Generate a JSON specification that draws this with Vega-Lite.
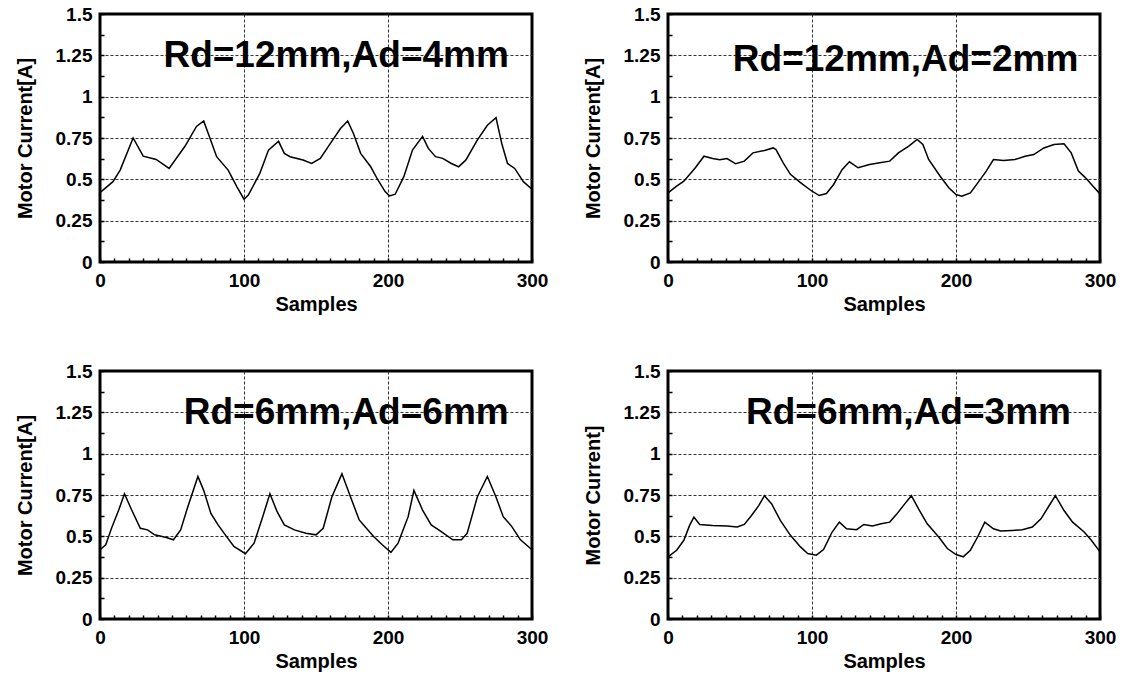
{
  "$schema": "https://vega.github.io/schema/vega-lite/v6.json",
  "autosize": {"type": "pad"},
  "padding": {"left": 13, "top": 3, "right": 5, "bottom": 5},
  "background": "white",
  "config": {
    "font": "Liberation Sans",
    "view": {"stroke": "black", "strokeWidth": 3},
    "axis": {
      "domain": false,
      "labelFont": "Liberation Sans",
      "labelFontWeight": "bold",
      "labelFontSize": 19,
      "labelColor": "black",
      "labelOverlap": false,
      "labelBound": false,
      "labelFlush": false,
      "titleFont": "Liberation Sans",
      "titleFontWeight": "bold",
      "titleFontSize": 20,
      "titleColor": "black",
      "gridColor": "#333333",
      "gridDash": [3, 2],
      "gridWidth": 1,
      "tickColor": "black",
      "tickWidth": 1.5,
      "tickSize": -4
    }
  },
  "datasets": {
    "current": [
      {"panel": "a", "sample": 0, "current": 0.42},
      {"panel": "a", "sample": 9, "current": 0.486},
      {"panel": "a", "sample": 14, "current": 0.556},
      {"panel": "a", "sample": 23, "current": 0.75},
      {"panel": "a", "sample": 30, "current": 0.64},
      {"panel": "a", "sample": 39, "current": 0.62},
      {"panel": "a", "sample": 48, "current": 0.566},
      {"panel": "a", "sample": 59, "current": 0.7},
      {"panel": "a", "sample": 67, "current": 0.82},
      {"panel": "a", "sample": 72, "current": 0.853},
      {"panel": "a", "sample": 76, "current": 0.757},
      {"panel": "a", "sample": 81, "current": 0.637},
      {"panel": "a", "sample": 89, "current": 0.556},
      {"panel": "a", "sample": 95, "current": 0.456},
      {"panel": "a", "sample": 100, "current": 0.38},
      {"panel": "a", "sample": 103, "current": 0.405},
      {"panel": "a", "sample": 111, "current": 0.536},
      {"panel": "a", "sample": 117, "current": 0.677},
      {"panel": "a", "sample": 124, "current": 0.73},
      {"panel": "a", "sample": 128, "current": 0.657},
      {"panel": "a", "sample": 132, "current": 0.637},
      {"panel": "a", "sample": 141, "current": 0.617},
      {"panel": "a", "sample": 147, "current": 0.596},
      {"panel": "a", "sample": 153, "current": 0.626},
      {"panel": "a", "sample": 160, "current": 0.717},
      {"panel": "a", "sample": 167, "current": 0.807},
      {"panel": "a", "sample": 172, "current": 0.853},
      {"panel": "a", "sample": 176, "current": 0.777},
      {"panel": "a", "sample": 181, "current": 0.657},
      {"panel": "a", "sample": 188, "current": 0.576},
      {"panel": "a", "sample": 193, "current": 0.496},
      {"panel": "a", "sample": 198, "current": 0.426},
      {"panel": "a", "sample": 201, "current": 0.4},
      {"panel": "a", "sample": 205, "current": 0.41},
      {"panel": "a", "sample": 211, "current": 0.516},
      {"panel": "a", "sample": 217, "current": 0.677},
      {"panel": "a", "sample": 224, "current": 0.76},
      {"panel": "a", "sample": 228, "current": 0.687},
      {"panel": "a", "sample": 233, "current": 0.637},
      {"panel": "a", "sample": 238, "current": 0.627},
      {"panel": "a", "sample": 244, "current": 0.596},
      {"panel": "a", "sample": 249, "current": 0.576},
      {"panel": "a", "sample": 254, "current": 0.616},
      {"panel": "a", "sample": 262, "current": 0.737},
      {"panel": "a", "sample": 269, "current": 0.827},
      {"panel": "a", "sample": 275, "current": 0.873},
      {"panel": "a", "sample": 279, "current": 0.717},
      {"panel": "a", "sample": 283, "current": 0.596},
      {"panel": "a", "sample": 288, "current": 0.566},
      {"panel": "a", "sample": 294, "current": 0.486},
      {"panel": "a", "sample": 300, "current": 0.44},

      {"panel": "b", "sample": 0, "current": 0.418},
      {"panel": "b", "sample": 6, "current": 0.459},
      {"panel": "b", "sample": 11, "current": 0.489},
      {"panel": "b", "sample": 19, "current": 0.57},
      {"panel": "b", "sample": 25, "current": 0.64},
      {"panel": "b", "sample": 31, "current": 0.626},
      {"panel": "b", "sample": 36, "current": 0.618},
      {"panel": "b", "sample": 41, "current": 0.626},
      {"panel": "b", "sample": 47, "current": 0.594},
      {"panel": "b", "sample": 53, "current": 0.61},
      {"panel": "b", "sample": 59, "current": 0.66},
      {"panel": "b", "sample": 67, "current": 0.675},
      {"panel": "b", "sample": 73, "current": 0.69},
      {"panel": "b", "sample": 75, "current": 0.68},
      {"panel": "b", "sample": 80, "current": 0.6},
      {"panel": "b", "sample": 85, "current": 0.53},
      {"panel": "b", "sample": 92, "current": 0.48},
      {"panel": "b", "sample": 100, "current": 0.428},
      {"panel": "b", "sample": 105, "current": 0.402},
      {"panel": "b", "sample": 110, "current": 0.414},
      {"panel": "b", "sample": 115, "current": 0.469},
      {"panel": "b", "sample": 121, "current": 0.56},
      {"panel": "b", "sample": 126, "current": 0.606},
      {"panel": "b", "sample": 132, "current": 0.57},
      {"panel": "b", "sample": 140, "current": 0.59},
      {"panel": "b", "sample": 147, "current": 0.6},
      {"panel": "b", "sample": 154, "current": 0.61},
      {"panel": "b", "sample": 160, "current": 0.66},
      {"panel": "b", "sample": 167, "current": 0.7},
      {"panel": "b", "sample": 173, "current": 0.741},
      {"panel": "b", "sample": 177, "current": 0.711},
      {"panel": "b", "sample": 181, "current": 0.62},
      {"panel": "b", "sample": 189, "current": 0.519},
      {"panel": "b", "sample": 195, "current": 0.449},
      {"panel": "b", "sample": 200, "current": 0.408},
      {"panel": "b", "sample": 204, "current": 0.398},
      {"panel": "b", "sample": 210, "current": 0.418},
      {"panel": "b", "sample": 216, "current": 0.489},
      {"panel": "b", "sample": 221, "current": 0.55},
      {"panel": "b", "sample": 226, "current": 0.62},
      {"panel": "b", "sample": 233, "current": 0.614},
      {"panel": "b", "sample": 241, "current": 0.62},
      {"panel": "b", "sample": 248, "current": 0.64},
      {"panel": "b", "sample": 254, "current": 0.65},
      {"panel": "b", "sample": 261, "current": 0.69},
      {"panel": "b", "sample": 268, "current": 0.711},
      {"panel": "b", "sample": 275, "current": 0.715},
      {"panel": "b", "sample": 280, "current": 0.66},
      {"panel": "b", "sample": 285, "current": 0.55},
      {"panel": "b", "sample": 290, "current": 0.509},
      {"panel": "b", "sample": 295, "current": 0.459},
      {"panel": "b", "sample": 300, "current": 0.412},

      {"panel": "c", "sample": 0, "current": 0.419},
      {"panel": "c", "sample": 4, "current": 0.449},
      {"panel": "c", "sample": 8, "current": 0.549},
      {"panel": "c", "sample": 13, "current": 0.659},
      {"panel": "c", "sample": 17, "current": 0.758},
      {"panel": "c", "sample": 22, "current": 0.659},
      {"panel": "c", "sample": 28, "current": 0.549},
      {"panel": "c", "sample": 33, "current": 0.539},
      {"panel": "c", "sample": 38, "current": 0.509},
      {"panel": "c", "sample": 46, "current": 0.493},
      {"panel": "c", "sample": 51, "current": 0.479},
      {"panel": "c", "sample": 56, "current": 0.539},
      {"panel": "c", "sample": 61, "current": 0.679},
      {"panel": "c", "sample": 68, "current": 0.862},
      {"panel": "c", "sample": 72, "current": 0.778},
      {"panel": "c", "sample": 77, "current": 0.639},
      {"panel": "c", "sample": 82, "current": 0.569},
      {"panel": "c", "sample": 87, "current": 0.509},
      {"panel": "c", "sample": 93, "current": 0.439},
      {"panel": "c", "sample": 101, "current": 0.395},
      {"panel": "c", "sample": 107, "current": 0.459},
      {"panel": "c", "sample": 113, "current": 0.619},
      {"panel": "c", "sample": 118, "current": 0.758},
      {"panel": "c", "sample": 123, "current": 0.649},
      {"panel": "c", "sample": 128, "current": 0.569},
      {"panel": "c", "sample": 135, "current": 0.539},
      {"panel": "c", "sample": 143, "current": 0.519},
      {"panel": "c", "sample": 150, "current": 0.509},
      {"panel": "c", "sample": 155, "current": 0.549},
      {"panel": "c", "sample": 161, "current": 0.738},
      {"panel": "c", "sample": 168, "current": 0.878},
      {"panel": "c", "sample": 174, "current": 0.738},
      {"panel": "c", "sample": 180, "current": 0.599},
      {"panel": "c", "sample": 185, "current": 0.549},
      {"panel": "c", "sample": 190, "current": 0.499},
      {"panel": "c", "sample": 196, "current": 0.449},
      {"panel": "c", "sample": 202, "current": 0.403},
      {"panel": "c", "sample": 207, "current": 0.459},
      {"panel": "c", "sample": 214, "current": 0.619},
      {"panel": "c", "sample": 218, "current": 0.778},
      {"panel": "c", "sample": 224, "current": 0.659},
      {"panel": "c", "sample": 230, "current": 0.569},
      {"panel": "c", "sample": 237, "current": 0.529},
      {"panel": "c", "sample": 245, "current": 0.479},
      {"panel": "c", "sample": 251, "current": 0.479},
      {"panel": "c", "sample": 255, "current": 0.519},
      {"panel": "c", "sample": 262, "current": 0.738},
      {"panel": "c", "sample": 269, "current": 0.862},
      {"panel": "c", "sample": 275, "current": 0.738},
      {"panel": "c", "sample": 280, "current": 0.619},
      {"panel": "c", "sample": 286, "current": 0.559},
      {"panel": "c", "sample": 292, "current": 0.479},
      {"panel": "c", "sample": 300, "current": 0.419},

      {"panel": "d", "sample": 0, "current": 0.376},
      {"panel": "d", "sample": 6, "current": 0.416},
      {"panel": "d", "sample": 11, "current": 0.476},
      {"panel": "d", "sample": 15, "current": 0.566},
      {"panel": "d", "sample": 18, "current": 0.616},
      {"panel": "d", "sample": 22, "current": 0.572},
      {"panel": "d", "sample": 31, "current": 0.566},
      {"panel": "d", "sample": 41, "current": 0.562},
      {"panel": "d", "sample": 48, "current": 0.556},
      {"panel": "d", "sample": 53, "current": 0.572},
      {"panel": "d", "sample": 58, "current": 0.626},
      {"panel": "d", "sample": 63, "current": 0.686},
      {"panel": "d", "sample": 67, "current": 0.746},
      {"panel": "d", "sample": 72, "current": 0.696},
      {"panel": "d", "sample": 78, "current": 0.596},
      {"panel": "d", "sample": 85, "current": 0.506},
      {"panel": "d", "sample": 92, "current": 0.436},
      {"panel": "d", "sample": 97, "current": 0.396},
      {"panel": "d", "sample": 103, "current": 0.386},
      {"panel": "d", "sample": 108, "current": 0.42},
      {"panel": "d", "sample": 114, "current": 0.526},
      {"panel": "d", "sample": 119, "current": 0.586},
      {"panel": "d", "sample": 124, "current": 0.546},
      {"panel": "d", "sample": 131, "current": 0.54},
      {"panel": "d", "sample": 136, "current": 0.572},
      {"panel": "d", "sample": 142, "current": 0.562},
      {"panel": "d", "sample": 148, "current": 0.576},
      {"panel": "d", "sample": 154, "current": 0.586},
      {"panel": "d", "sample": 159, "current": 0.636},
      {"panel": "d", "sample": 164, "current": 0.692},
      {"panel": "d", "sample": 169, "current": 0.746},
      {"panel": "d", "sample": 174, "current": 0.666},
      {"panel": "d", "sample": 180, "current": 0.576},
      {"panel": "d", "sample": 188, "current": 0.496},
      {"panel": "d", "sample": 194, "current": 0.426},
      {"panel": "d", "sample": 200, "current": 0.39},
      {"panel": "d", "sample": 205, "current": 0.376},
      {"panel": "d", "sample": 210, "current": 0.416},
      {"panel": "d", "sample": 215, "current": 0.496},
      {"panel": "d", "sample": 220, "current": 0.586},
      {"panel": "d", "sample": 226, "current": 0.546},
      {"panel": "d", "sample": 231, "current": 0.532},
      {"panel": "d", "sample": 239, "current": 0.536},
      {"panel": "d", "sample": 246, "current": 0.54},
      {"panel": "d", "sample": 253, "current": 0.556},
      {"panel": "d", "sample": 259, "current": 0.606},
      {"panel": "d", "sample": 264, "current": 0.676},
      {"panel": "d", "sample": 269, "current": 0.746},
      {"panel": "d", "sample": 275, "current": 0.656},
      {"panel": "d", "sample": 281, "current": 0.586},
      {"panel": "d", "sample": 289, "current": 0.526},
      {"panel": "d", "sample": 294, "current": 0.476},
      {"panel": "d", "sample": 300, "current": 0.406}
    ],
    "notes": [
      {"panel": "a", "sample": 164, "current": 1.18, "note": "Rd=12mm,Ad=4mm"},
      {"panel": "b", "sample": 165, "current": 1.156, "note": "Rd=12mm,Ad=2mm"},
      {"panel": "c", "sample": 171, "current": 1.182, "note": "Rd=6mm,Ad=6mm"},
      {"panel": "d", "sample": 167, "current": 1.182, "note": "Rd=6mm,Ad=3mm"}
    ]
  },
  "columns": 2,
  "bounds": "flush",
  "spacing": {"column": 136, "row": 109},
  "concat": [
    {
      "width": 432,
      "height": 248,
      "encoding": {
        "x": {"field": "sample", "type": "quantitative", "scale": {"domain": [0, 300], "nice": false, "zero": false},
          "axis": {"title": "Samples", "values": [0,10,20,30,40,50,60,70,80,90,100,110,120,130,140,150,160,170,180,190,200,210,220,230,240,250,260,270,280,290,300],
            "labelExpr": "datum.value % 100 === 0 ? datum.label : ''",
            "gridOpacity": {"condition": {"test": "datum.value % 100 !== 0 || datum.value === 0 || datum.value === 300", "value": 0}, "value": 1},
            "labelPadding": 13, "titlePadding": 4}},
        "y": {"field": "current", "type": "quantitative", "scale": {"domain": [0, 1.5], "nice": false},
          "axis": {"title": "Motor Current[A]", "values": [0,0.125,0.25,0.375,0.5,0.625,0.75,0.875,1,1.125,1.25,1.375,1.5],
            "labelExpr": "(datum.value * 4) % 1 === 0 ? toString(datum.value) : ''",
            "gridOpacity": {"condition": {"test": "(datum.value * 4) % 1 !== 0 || datum.value === 0 || datum.value === 1.5", "value": 0}, "value": 1},
            "labelPadding": 12, "titlePadding": 20}}
      },
      "layer": [
        {"data": {"name": "current"}, "transform": [{"filter": "datum.panel === 'a'"}],
          "mark": {"type": "line", "color": "black", "strokeWidth": 1.5}},
        {"data": {"name": "notes"}, "transform": [{"filter": "datum.panel === 'a'"}],
          "mark": {"type": "text", "font": "Liberation Sans", "fontWeight": "bold", "fontSize": 37, "align": "center", "baseline": "alphabetic", "color": "black"},
          "encoding": {"text": {"field": "note"}}}
      ]
    },
    {
      "width": 432,
      "height": 248,
      "encoding": {
        "x": {"field": "sample", "type": "quantitative", "scale": {"domain": [0, 300], "nice": false, "zero": false},
          "axis": {"title": "Samples", "values": [0,10,20,30,40,50,60,70,80,90,100,110,120,130,140,150,160,170,180,190,200,210,220,230,240,250,260,270,280,290,300],
            "labelExpr": "datum.value % 100 === 0 ? datum.label : ''",
            "gridOpacity": {"condition": {"test": "datum.value % 100 !== 0 || datum.value === 0 || datum.value === 300", "value": 0}, "value": 1},
            "labelPadding": 13, "titlePadding": 4}},
        "y": {"field": "current", "type": "quantitative", "scale": {"domain": [0, 1.5], "nice": false},
          "axis": {"title": "Motor Current[A]", "values": [0,0.125,0.25,0.375,0.5,0.625,0.75,0.875,1,1.125,1.25,1.375,1.5],
            "labelExpr": "(datum.value * 4) % 1 === 0 ? toString(datum.value) : ''",
            "gridOpacity": {"condition": {"test": "(datum.value * 4) % 1 !== 0 || datum.value === 0 || datum.value === 1.5", "value": 0}, "value": 1},
            "labelPadding": 12, "titlePadding": 20}}
      },
      "layer": [
        {"data": {"name": "current"}, "transform": [{"filter": "datum.panel === 'b'"}],
          "mark": {"type": "line", "color": "black", "strokeWidth": 1.5}},
        {"data": {"name": "notes"}, "transform": [{"filter": "datum.panel === 'b'"}],
          "mark": {"type": "text", "font": "Liberation Sans", "fontWeight": "bold", "fontSize": 37, "align": "center", "baseline": "alphabetic", "color": "black"},
          "encoding": {"text": {"field": "note"}}}
      ]
    },
    {
      "width": 432,
      "height": 248,
      "encoding": {
        "x": {"field": "sample", "type": "quantitative", "scale": {"domain": [0, 300], "nice": false, "zero": false},
          "axis": {"title": "Samples", "values": [0,10,20,30,40,50,60,70,80,90,100,110,120,130,140,150,160,170,180,190,200,210,220,230,240,250,260,270,280,290,300],
            "labelExpr": "datum.value % 100 === 0 ? datum.label : ''",
            "gridOpacity": {"condition": {"test": "datum.value % 100 !== 0 || datum.value === 0 || datum.value === 300", "value": 0}, "value": 1},
            "labelPadding": 13, "titlePadding": 4}},
        "y": {"field": "current", "type": "quantitative", "scale": {"domain": [0, 1.5], "nice": false},
          "axis": {"title": "Motor Current[A]", "values": [0,0.125,0.25,0.375,0.5,0.625,0.75,0.875,1,1.125,1.25,1.375,1.5],
            "labelExpr": "(datum.value * 4) % 1 === 0 ? toString(datum.value) : ''",
            "gridOpacity": {"condition": {"test": "(datum.value * 4) % 1 !== 0 || datum.value === 0 || datum.value === 1.5", "value": 0}, "value": 1},
            "labelPadding": 12, "titlePadding": 20}}
      },
      "layer": [
        {"data": {"name": "current"}, "transform": [{"filter": "datum.panel === 'c'"}],
          "mark": {"type": "line", "color": "black", "strokeWidth": 1.5}},
        {"data": {"name": "notes"}, "transform": [{"filter": "datum.panel === 'c'"}],
          "mark": {"type": "text", "font": "Liberation Sans", "fontWeight": "bold", "fontSize": 37, "align": "center", "baseline": "alphabetic", "color": "black"},
          "encoding": {"text": {"field": "note"}}}
      ]
    },
    {
      "width": 432,
      "height": 248,
      "encoding": {
        "x": {"field": "sample", "type": "quantitative", "scale": {"domain": [0, 300], "nice": false, "zero": false},
          "axis": {"title": "Samples", "values": [0,10,20,30,40,50,60,70,80,90,100,110,120,130,140,150,160,170,180,190,200,210,220,230,240,250,260,270,280,290,300],
            "labelExpr": "datum.value % 100 === 0 ? datum.label : ''",
            "gridOpacity": {"condition": {"test": "datum.value % 100 !== 0 || datum.value === 0 || datum.value === 300", "value": 0}, "value": 1},
            "labelPadding": 13, "titlePadding": 4}},
        "y": {"field": "current", "type": "quantitative", "scale": {"domain": [0, 1.5], "nice": false},
          "axis": {"title": "Motor Current]", "values": [0,0.125,0.25,0.375,0.5,0.625,0.75,0.875,1,1.125,1.25,1.375,1.5],
            "labelExpr": "(datum.value * 4) % 1 === 0 ? toString(datum.value) : ''",
            "gridOpacity": {"condition": {"test": "(datum.value * 4) % 1 !== 0 || datum.value === 0 || datum.value === 1.5", "value": 0}, "value": 1},
            "labelPadding": 12, "titlePadding": 20}}
      },
      "layer": [
        {"data": {"name": "current"}, "transform": [{"filter": "datum.panel === 'd'"}],
          "mark": {"type": "line", "color": "black", "strokeWidth": 1.5}},
        {"data": {"name": "notes"}, "transform": [{"filter": "datum.panel === 'd'"}],
          "mark": {"type": "text", "font": "Liberation Sans", "fontWeight": "bold", "fontSize": 37, "align": "center", "baseline": "alphabetic", "color": "black"},
          "encoding": {"text": {"field": "note"}}}
      ]
    }
  ]
}
